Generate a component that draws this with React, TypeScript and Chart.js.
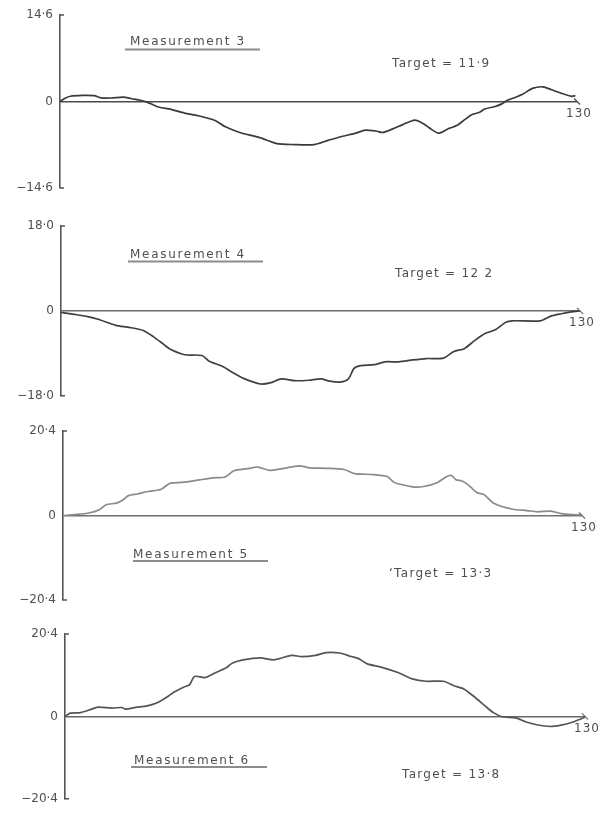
import React, { useEffect, useRef } from "react";
import { Chart, registerables } from "chart.js";

Chart.register(...registerables);

// ---------- data ----------
const X_MAX = 130;
const xEndLabel = "130";

const m3X = [0, 1.3, 2.6, 5.6, 8.6, 10.3, 12.9, 15.9, 18, 20.2, 21.9, 24.5, 27.9, 31.3, 34.8, 39, 41.6, 45, 50.2, 54.5, 58.8, 63.9, 67.4, 70.8, 74.2, 76.8, 79.4, 81.1, 83.7, 86.2, 89.2, 91.4, 93.1, 95.2, 97.4, 100, 101.7, 103.4, 105.5, 106.8, 109.4, 111.1, 112.4, 114.1, 116.3, 118.8, 121.4, 123.6, 126.1, 128.7, 129.6];
const m3Y = [0, 0.56, 0.89, 1.03, 0.99, 0.62, 0.59, 0.73, 0.47, 0.21, -0.1, -0.88, -1.33, -1.95, -2.4, -3.2, -4.28, -5.18, -6.1, -7.1, -7.27, -7.27, -6.56, -5.9, -5.38, -4.83, -4.98, -5.23, -4.62, -3.9, -3.13, -3.74, -4.57, -5.35, -4.68, -3.96, -3.1, -2.27, -1.83, -1.27, -0.84, -0.4, 0.16, 0.6, 1.21, 2.22, 2.48, 1.99, 1.38, 0.88, 1.0];

const m4X = [0, 3.3, 6.7, 9.3, 13.7, 17.1, 20.6, 23.2, 25.8, 27.5, 31, 35.3, 37, 40.5, 43.1, 45.7, 50, 52.6, 55.2, 58.6, 62.1, 65.1, 67.3, 69.9, 72, 73.4, 75.1, 78.5, 81.1, 84.6, 88.1, 91.5, 95.8, 98.4, 101, 103.6, 106.2, 108.8, 111.4, 113.1, 120.1, 122.7, 125.3, 127.8, 130];
const m4Y = [-0.3, -0.72, -1.21, -1.78, -3.07, -3.5, -4.15, -5.5, -7.15, -8.2, -9.3, -9.45, -10.6, -11.8, -13.1, -14.3, -15.5, -15.2, -14.4, -14.8, -14.7, -14.4, -14.9, -15.1, -14.4, -12.2, -11.6, -11.4, -10.8, -10.8, -10.4, -10.1, -10, -8.6, -8, -6.3, -4.8, -4, -2.4, -2.1, -2.1, -1.1, -0.6, -0.2, 0];

const m5X = [0, 3, 6.5, 9.1, 10.8, 13.4, 15.1, 16.4, 18.6, 21.2, 24.6, 26.8, 29.8, 34.1, 37.6, 40.6, 42.8, 46.2, 48.8, 51.8, 54.9, 59.2, 61.8, 66.1, 70.4, 73, 77.3, 81.2, 82.9, 84.2, 87.7, 90.3, 93.7, 95.9, 97.2, 98.5, 99.8, 101.5, 103.7, 105.4, 108, 112.7, 116.2, 118.8, 122.2, 124.8, 127.4, 129.6];
const m5Y = [0, 0.22, 0.61, 1.4, 2.6, 3, 3.8, 4.8, 5.2, 5.8, 6.35, 7.8, 8, 8.6, 9.1, 9.3, 10.8, 11.3, 11.7, 10.9, 11.3, 12, 11.5, 11.4, 11.1, 10.1, 9.9, 9.4, 8, 7.6, 6.9, 7, 7.9, 9.3, 9.7, 8.6, 8.4, 7.4, 5.5, 5.1, 2.9, 1.5, 1.2, 0.9, 1.05, 0.45, 0.19, 0.17];

const m6X = [0, 1.3, 3.9, 6.5, 8.2, 11.7, 14.3, 15.1, 17.7, 20.3, 22.9, 25.5, 27.2, 29.8, 31.1, 32.4, 35, 37.6, 40.2, 41.9, 44.5, 48.8, 52.3, 56.6, 59.2, 62.6, 65.2, 68.7, 71.3, 73.4, 75.6, 79, 83.4, 86.8, 90.3, 94.6, 97.2, 99.8, 102.4, 105, 107.1, 109.3, 112.7, 115.3, 117.9, 121.4, 124, 126.6, 129.1, 130];
const m6Y = [0, 0.8, 0.93, 1.73, 2.28, 2.07, 2.2, 1.79, 2.25, 2.54, 3.3, 4.8, 6, 7.3, 7.8, 9.9, 9.6, 10.8, 12, 13.2, 14, 14.5, 14, 15.1, 14.8, 15.1, 15.8, 15.7, 14.9, 14.3, 13, 12.2, 10.8, 9.3, 8.7, 8.7, 7.6, 6.75, 4.8, 2.6, 0.93, -0.08, -0.37, -1.4, -2.07, -2.5, -2.14, -1.5, -0.57, -0.16];

const yLimits = [14.6, 18.0, 20.4, 20.4];
const tickLabels3 = ["−14·6", "0", "14·6"];
const tickLabels4 = ["−18·0", "0", "18·0"];
const tickLabels5 = ["−20·4", "0", "20·4"];
const tickLabels6 = ["−20·4", "0", "20·4"];
const measurementTitles = ["Measurement 3", "Measurement 4", "Measurement 5", "Measurement 6"];
const targetLabels = ["Target = 11·9", "Target = 12 2", "‘Target = 13·3", "Target = 13·8"];

// ---------- layout / style ----------
const FONT = "'DejaVu Sans', sans-serif";
const TEXT_COLOR = "#4f4f4f";
const AXIS_COLOR = "#555555";

const PANELS = [
  { xs: m3X, ys: m3Y, lim: yLimits[0], labels: tickLabels3, title: measurementTitles[0], target: targetLabels[0],
    top: 0, height: 205, areaTop: 15, areaBottom: 188, left: 60, right: 577,
    tx: 130, ty: 45, ux0: 125, ux1: 260, uy: 49.5, gx: 392, gy: 67, line: "#3a3a3a", base: "#4a4a4a" },
  { xs: m4X, ys: m4Y, lim: yLimits[1], labels: tickLabels4, title: measurementTitles[1], target: targetLabels[1],
    top: 205, height: 205, areaTop: 226, areaBottom: 397, left: 61, right: 580,
    tx: 130, ty: 258, ux0: 128, ux1: 263, uy: 261.5, gx: 395, gy: 277, line: "#404040", base: "#6a6a6a" },
  { xs: m5X, ys: m5Y, lim: yLimits[2], labels: tickLabels5, title: measurementTitles[2], target: targetLabels[2],
    top: 410, height: 205, areaTop: 431, areaBottom: 600, left: 63, right: 582,
    tx: 133, ty: 558, ux0: 133, ux1: 268, uy: 561, gx: 389, gy: 577, line: "#8a8a8a", base: "#707070" },
  { xs: m6X, ys: m6Y, lim: yLimits[3], labels: tickLabels6, title: measurementTitles[3], target: targetLabels[3],
    top: 615, height: 198, areaTop: 634, areaBottom: 803, left: 65, right: 585,
    tx: 134, ty: 764, ux0: 131, ux1: 267, uy: 767, gx: 402, gy: 778, line: "#555555", base: "#666666" },
];

type Panel = typeof PANELS[number];

function makeDecor(p: Panel) {
  return {
    id: "decor",
    afterDraw(chart: any) {
      const { ctx, chartArea, scales } = chart;
      const xs = scales.x;
      const ys = scales.y;
      ctx.save();
      // inward ticks at the axis ends
      ctx.strokeStyle = AXIS_COLOR;
      ctx.lineWidth = 1.6;
      ctx.beginPath();
      [p.lim, -p.lim].forEach((v) => {
        const y = ys.getPixelForValue(v);
        ctx.moveTo(chartArea.left, y);
        ctx.lineTo(chartArea.left + 4, y);
      });
      ctx.stroke();
      // small mark at the end of the baseline
      const xe = xs.getPixelForValue(X_MAX);
      const y0 = ys.getPixelForValue(0);
      ctx.strokeStyle = p.base;
      ctx.lineWidth = 1.2;
      ctx.beginPath();
      ctx.moveTo(xe - 3, y0 - 3);
      ctx.lineTo(xe, y0);
      ctx.lineTo(xe + 3, y0 + 3);
      ctx.stroke();
      // "130" label
      ctx.fillStyle = TEXT_COLOR;
      ctx.font = `12px ${FONT}`;
      (ctx as any).letterSpacing = "1px";
      ctx.textAlign = "center";
      ctx.textBaseline = "middle";
      ctx.fillText(xEndLabel, xe + 2, y0 + 12);
      // title with underline
      const off = p.top;
      ctx.textAlign = "left";
      ctx.textBaseline = "alphabetic";
      (ctx as any).letterSpacing = "1.7px";
      ctx.fillText(p.title, p.tx, p.ty - off);
      ctx.strokeStyle = "#8c8c8c";
      ctx.lineWidth = 2;
      ctx.beginPath();
      ctx.moveTo(p.ux0, p.uy - off);
      ctx.lineTo(p.ux1, p.uy - off);
      ctx.stroke();
      // target text
      (ctx as any).letterSpacing = "1.3px";
      ctx.fillText(p.target, p.gx, p.gy - off);
      ctx.restore();
    },
  };
}

function PanelChart({ p }: { p: Panel }) {
  const ref = useRef<HTMLCanvasElement | null>(null);
  useEffect(() => {
    if (!ref.current) return;
    const chart = new Chart(ref.current, {
      type: "line",
      data: {
        datasets: [
          {
            data: p.xs.map((x, i) => ({ x, y: p.ys[i] })),
            borderColor: p.line,
            borderWidth: 1.7,
            pointRadius: 0,
            tension: 0.25,
            fill: false,
          },
        ],
      },
      options: {
        animation: false,
        responsive: false,
        maintainAspectRatio: false,
        events: [],
        layout: {
          padding: {
            top: p.areaTop - p.top,
            bottom: p.top + p.height - p.areaBottom,
            left: 0,
            right: 609 - p.right,
          },
        },
        plugins: {
          legend: { display: false },
          tooltip: { enabled: false },
          title: { display: false },
        },
        scales: {
          x: { type: "linear", min: 0, max: X_MAX, display: false },
          y: {
            type: "linear",
            min: -p.lim,
            max: p.lim,
            position: "left",
            afterBuildTicks: (s: any) => {
              s.ticks = [{ value: -p.lim }, { value: 0 }, { value: p.lim }];
            },
            afterFit: (s: any) => {
              s.width = p.left;
            },
            ticks: {
              callback: (_v: any, i: number) => p.labels[i],
              padding: 7,
              autoSkip: false,
              color: TEXT_COLOR,
              font: { family: FONT, size: 12 },
            },
            grid: {
              drawTicks: false,
              lineWidth: 1.4,
              color: (c: any) => (c.tick && c.tick.value === 0 ? p.base : "rgba(0,0,0,0)"),
            },
            border: { display: true, color: AXIS_COLOR, width: 1.6 },
          },
        },
      } as any,
      plugins: [makeDecor(p)],
    });
    return () => chart.destroy();
  }, [p]);
  return (
    <canvas
      ref={ref}
      width={609}
      height={p.height}
      style={{ position: "absolute", left: 0, top: p.top, width: 609, height: p.height, display: "block" }}
    />
  );
}

export default function App() {
  return (
    <div style={{ position: "absolute", left: 0, top: 0, width: 609, height: 813, background: "#ffffff" }}>
      {PANELS.map((p, i) => (
        <PanelChart key={i} p={p} />
      ))}
    </div>
  );
}
